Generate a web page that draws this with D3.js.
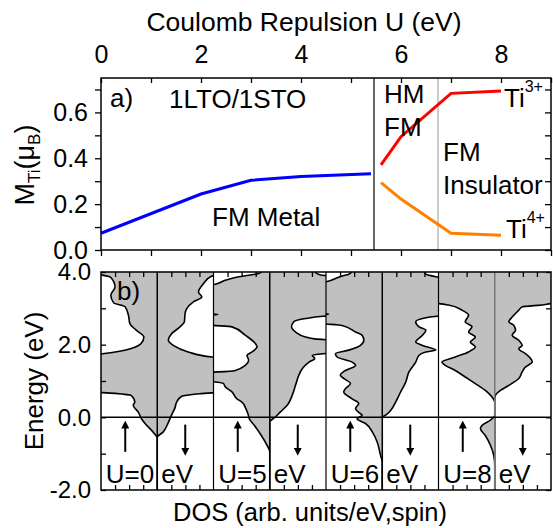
<!DOCTYPE html>
<html><head><meta charset="utf-8">
<script src="https://cdn.jsdelivr.net/npm/d3@7"></script>
<style>
body{margin:0;background:#fff;}
text{font-family:"Liberation Sans",Arial,sans-serif;fill:#000;}
</style></head>
<body><svg id="c" width="553" height="528"></svg>
<script>
// ---------- top panel data ----------
const U_fmMetal = [0, 2, 3, 4, 5.4];
const M_fmMetal = [0.073, 0.244, 0.304, 0.32, 0.333];
const U_ti = [5.6, 6, 7, 8];
const M_ti3 = [0.371, 0.494, 0.683, 0.693];
const M_ti4 = [0.294, 0.222, 0.073, 0.064];
const phaseBoundaries = [5.46, 6.74];
const uTicks = [0,1,2,3,4,5,6,7,8,9];
const uLabels = [0,2,4,6,8];
const mTicks = [0,0.1,0.2,0.3,0.4,0.5,0.6,0.7];
const mLabels = [0,0.2,0.4,0.6];

// ---------- bottom panel data ([energy eV, DOS]) ----------
const panelU = [0, 5, 6, 8];
const energyTicks = [-2,-1,0,1,2,3,4];
const energyLabels = [-2,0,2,4];
const dosTicks = [1,2,3];
const dosU0Up = [[-2,0],[-0.56,0],[-0.45,0.2],[-0.36,0.40],[-0.22,0.76],[-0.04,1.12],[0.15,1.36],[0.33,1.71],[0.42,1.6],[0.6,1.85],[0.66,3],[0.71,5],[1.70,5],[1.75,3.9],[1.89,1.9],[2.03,1.15],[2.21,0.95],[2.40,1.5],[2.58,1.95],[2.81,2.05],[3.05,2.3],[3.15,3.1],[3.36,3.3],[3.59,3.0],[3.85,3.3],[3.92,4.0],[3.97,5],[4,5]];
const dosU0Dn = [[-2,0],[-0.55,0],[-0.4,0.43],[-0.13,0.8],[0.09,1.05],[0.26,1.26],[0.42,1.38],[0.58,1.74],[0.65,3.0],[0.71,5],[1.62,5],[1.66,3.9],[1.80,2.2],[1.98,1.14],[2.12,0.79],[2.30,1.02],[2.49,1.62],[2.63,1.93],[2.86,1.98],[2.99,2.10],[3.18,2.57],[3.31,3.17],[3.45,2.93],[3.68,3.29],[3.89,3.88],[3.95,5],[4,5]];
const dosU5Up = [[-2,0],[-0.95,0],[-0.73,0.25],[-0.5,0.6],[-0.22,1.1],[-0.04,1.45],[0.10,1.55],[0.24,1.7],[0.42,1.98],[0.51,2.33],[0.70,2.69],[0.84,3.17],[0.93,3.29],[0.98,4],[1.0,5],[1.23,5],[1.25,3.64],[1.29,2.45],[1.43,1.74],[1.57,1.5],[1.71,1.62],[1.80,1.26],[1.94,0.90],[2.03,1.02],[2.26,1.74],[2.49,2.69],[2.53,4],[2.56,5],[2.78,5],[2.83,3.7],[2.87,5],[3.63,5],[3.65,4],[3.77,3.17],[3.87,2.21],[3.91,1.5],[3.96,0.79],[4,0.6]];
const dosU5Dn = [[-2,0],[-0.13,0],[0.01,0.4],[0.15,0.76],[0.33,1.24],[0.61,1.6],[0.88,1.83],[1.16,2.07],[1.34,2.31],[1.52,2.79],[1.62,3.2],[1.71,3.02],[1.75,3.8],[1.78,5],[2.10,5],[2.16,3.2],[2.21,2.55],[2.35,1.83],[2.49,1.55],[2.63,1.71],[2.72,2.55],[2.78,3.8],[2.81,5],[3.85,5],[3.92,3.6],[4,3.2]];
const dosU6Up = [[-2,0],[-1.23,0],[-1.05,0.12],[-0.68,0.36],[-0.40,0.71],[-0.17,1.19],[-0.04,1.79],[0.06,1.43],[0.10,1.55],[0.24,1.9],[0.38,1.67],[0.51,2.14],[0.70,2.74],[0.79,2.62],[0.93,2.26],[1.07,2.74],[1.16,2.98],[1.29,2.62],[1.43,1.9],[1.52,2.14],[1.66,3.21],[1.75,3.33],[1.85,2.38],[1.98,1.55],[2.12,1.31],[2.26,1.43],[2.35,1.9],[2.53,2.86],[2.57,4],[2.6,5],[2.8,5],[2.84,3.8],[2.88,5],[3.70,5],[3.73,4],[3.82,3.33],[3.89,2.86],[3.94,2.38],[4,2.2]];
const dosU6Dn = [[-2,0],[0.0,0],[0.06,0.24],[0.19,0.6],[0.42,0.95],[0.70,1.31],[0.97,1.67],[1.25,1.9],[1.52,2.38],[1.71,2.62],[1.80,3.1],[1.85,3.81],[1.98,2.86],[2.07,2.38],[2.26,2.86],[2.40,3.1],[2.49,2.62],[2.63,2.38],[2.72,2.86],[2.78,3.9],[2.82,5],[3.80,5],[3.87,3.81],[3.94,3.1],[4,3.0]];
const dosU8Up = [[-2,0],[-1.32,0],[-1.05,0.07],[-0.77,0.31],[-0.50,0.67],[-0.31,1.02],[-0.22,0.9],[-0.08,0.31],[0.02,0.05],[0.06,0],[0.42,0],[0.56,0.19],[0.74,0.67],[0.93,1.38],[1.11,2.1],[1.29,2.81],[1.43,3.52],[1.52,3.76],[1.66,2.81],[1.80,1.86],[1.94,1.38],[2.07,1.74],[2.21,1.38],[2.35,1.86],[2.49,1.62],[2.63,2.1],[2.81,1.86],[2.95,2.33],[3.09,3.29],[3.13,4],[3.16,5],[4,5]];
const dosU8Dn = [[-2,0],[0.5,0],[0.61,0.05],[0.74,0.4],[0.88,1.0],[1.07,1.71],[1.25,1.95],[1.39,2.19],[1.52,2.67],[1.62,2.55],[1.75,2.19],[1.89,1.71],[1.98,1.95],[2.12,1.71],[2.26,1.24],[2.40,1.48],[2.53,1.36],[2.63,1.0],[2.76,1.24],[2.95,1.71],[3.04,1.95],[3.10,3.5],[3.13,4.0],[3.16,5],[4,5]];
const dosUp = [dosU0Up, dosU5Up, dosU6Up, dosU8Up];
const dosDn = [dosU0Dn, dosU5Dn, dosU6Dn, dosU8Dn];
const arrowE = [-0.2, -0.95];

const svg = d3.select("#c");
svg.append("rect").attr("width",553).attr("height",528).attr("fill","#fff");

// ================= TOP PANEL =================
const L = 101, R = 551, T1 = 78, B1 = 250;
const x = d3.scaleLinear().domain([0,9]).range([L,R]);
const y = d3.scaleLinear().domain([0,0.75]).range([B1,T1]);
const topG = svg.append("g");

function cleanAxis(g){ g.select(".domain").remove(); g.selectAll(".tick line").attr("stroke","#000").attr("stroke-width",1.3); }

topG.append("g").attr("transform",`translate(0,${T1})`)
  .call(d3.axisTop(x).tickValues(uTicks).tickSizeInner(-5).tickSizeOuter(0).tickPadding(15)
    .tickFormat(d => uLabels.includes(d) ? String(d) : ""))
  .call(cleanAxis).selectAll("text").attr("font-size",25).attr("font-family","Liberation Sans, Arial, sans-serif");
topG.append("g").attr("transform",`translate(0,${B1})`)
  .call(d3.axisBottom(x).tickValues(uTicks).tickSizeInner(6).tickSizeOuter(0).tickFormat(""))
  .call(cleanAxis);
topG.append("g").attr("transform",`translate(${L},0)`)
  .call(d3.axisLeft(y).tickValues(mTicks).tickSizeInner(6).tickSizeOuter(0).tickPadding(7)
    .tickFormat(d => mLabels.some(v=>Math.abs(v-d)<1e-9) ? d.toFixed(1) : ""))
  .call(cleanAxis).selectAll("text").attr("font-size",25).attr("font-family","Liberation Sans, Arial, sans-serif");
topG.append("g").attr("transform",`translate(${R},0)`)
  .call(d3.axisRight(y).tickValues(mTicks).tickSizeInner(-6).tickSizeOuter(0).tickFormat(""))
  .call(cleanAxis);

// phase boundaries
topG.append("line").attr("x1",x(phaseBoundaries[0])).attr("x2",x(phaseBoundaries[0]))
  .attr("y1",T1).attr("y2",B1).attr("stroke","#333").attr("stroke-width",1.5);
topG.append("line").attr("x1",x(phaseBoundaries[1])).attr("x2",x(phaseBoundaries[1]))
  .attr("y1",T1).attr("y2",B1).attr("stroke","#bbb").attr("stroke-width",1.5);

const ln = d3.line().x(d=>x(d[0])).y(d=>y(d[1]));
topG.append("path").datum(U_fmMetal.map((u,i)=>[u,M_fmMetal[i]])).attr("d",ln)
  .attr("fill","none").attr("stroke","#0000ff").attr("stroke-width",3);
topG.append("path").datum(U_ti.map((u,i)=>[u,M_ti3[i]])).attr("d",ln)
  .attr("fill","none").attr("stroke","#ff0000").attr("stroke-width",3);
topG.append("path").datum(U_ti.map((u,i)=>[u,M_ti4[i]])).attr("d",ln)
  .attr("fill","none").attr("stroke","#ff8000").attr("stroke-width",3);

topG.append("rect").attr("x",L).attr("y",T1).attr("width",R-L).attr("height",B1-T1)
  .attr("fill","none").attr("stroke","#000").attr("stroke-width",1.5);

function txt(g,s,xx,yy,size,anchor){ return g.append("text").attr("x",xx).attr("y",yy).attr("font-size",size).attr("text-anchor",anchor||"start").text(s); }
txt(svg,"Coulomb Repulsion U (eV)",304,31,26.5,"middle");
txt(topG,"a)",110,107,26);
txt(topG,"1LTO/1STO",169,108,26);
txt(topG,"HM",384,103,26);
txt(topG,"FM",384,136,26);
txt(topG,"FM",443,161,26);
txt(topG,"Insulator",443,194,26);
txt(topG,"FM Metal",212,226,26);
const t3 = txt(topG,"Ti",504,107,26);
t3.append("tspan").attr("font-size",16).attr("dy",-15).text("3+");
const t4 = txt(topG,"Ti",506,238,26);
t4.append("tspan").attr("font-size",16).attr("dy",-15).text("4+");

const ml = svg.append("text").attr("transform","translate(34,165) rotate(-90)").attr("text-anchor","middle").attr("font-size",27);
ml.append("tspan").text("M");
ml.append("tspan").attr("font-size",17).attr("dy",6).text("Ti");
ml.append("tspan").attr("dy",-6).text("(μ");
ml.append("tspan").attr("font-size",17).attr("dy",6).text("B");
ml.append("tspan").attr("dy",-6).text(")");

// ================= BOTTOM PANEL =================
const T2 = 272, B2 = 490;
const yE = d3.scaleLinear().domain([-2,4]).range([B2,T2]);
const pw = (R-L)/panelU.length, hw = pw/2;
const bot = svg.append("g");
const defs = svg.append("defs");
defs.append("marker").attr("id","ah").attr("viewBox","0 0 10 10").attr("refX",5).attr("refY",5)
  .attr("markerWidth",4).attr("markerHeight",4).attr("orient","auto-start-reverse")
  .append("path").attr("d","M0,0L10,5L0,10z").attr("fill","#000");

panelU.forEach((u,i)=>{
  const x0 = L + i*pw, div = x0 + hw;
  const xUp = d3.scaleLinear().domain([0,4]).range([div, div-hw]);
  const xDn = d3.scaleLinear().domain([0,4]).range([div, div+hw]);
  [[xUp,dosUp[i],div-hw,"u"],[xDn,dosDn[i],div,"d"]].forEach(([xs,data,cx,tag])=>{
    const id = `clip${i}${tag}`;
    defs.append("clipPath").attr("id",id).append("rect").attr("x",cx).attr("y",T2).attr("width",hw).attr("height",B2-T2);
    const g = bot.append("g").attr("clip-path",`url(#${id})`);
    const area = d3.area().y(d=>yE(d[0])).x0(div).x1(d=>xs(d[1])).curve(d3.curveMonotoneY);
    const line = d3.line().y(d=>yE(d[0])).x(d=>xs(d[1])).curve(d3.curveMonotoneY);
    g.append("path").datum(data).attr("d",area).attr("fill","#c0c0c0").attr("stroke","none");
    g.append("path").datum(data).attr("d",line).attr("fill","none").attr("stroke","#000").attr("stroke-width",1.6);
    bot.append("g").attr("transform",`translate(0,${B2})`)
      .call(d3.axisBottom(xs).tickValues(dosTicks).tickSizeInner(-5).tickSizeOuter(0).tickFormat("")).call(cleanAxis);
    bot.append("g").attr("transform",`translate(0,${T2})`)
      .call(d3.axisTop(xs).tickValues(dosTicks).tickSizeInner(-5).tickSizeOuter(0).tickFormat("")).call(cleanAxis);
  });
  bot.append("line").attr("x1",div).attr("x2",div).attr("y1",T2).attr("y2",B2)
    .attr("stroke", i===3 ? "#777" : "#000").attr("stroke-width",1.5);
  if(i>0) bot.append("line").attr("x1",x0).attr("x2",x0).attr("y1",T2).attr("y2",B2).attr("stroke","#000").attr("stroke-width",1.2);
  // spin arrows
  bot.append("line").attr("x1",div-32).attr("x2",div-32).attr("y1",yE(arrowE[1])).attr("y2",yE(arrowE[0]))
    .attr("stroke","#000").attr("stroke-width",2).attr("marker-end","url(#ah)");
  bot.append("line").attr("x1",div+28).attr("x2",div+28).attr("y1",yE(arrowE[0])).attr("y2",yE(arrowE[1]))
    .attr("stroke","#000").attr("stroke-width",2).attr("marker-end","url(#ah)");
  txt(bot,`U=${u}`,div-3,483,26,"end");
  txt(bot,"eV",div+4,483,26,"start");
});

// Fermi level
bot.append("line").attr("x1",L).attr("x2",R).attr("y1",yE(0)).attr("y2",yE(0)).attr("stroke","#000").attr("stroke-width",1.5);

bot.append("g").attr("transform",`translate(${L},0)`)
  .call(d3.axisLeft(yE).tickValues(energyTicks).tickSizeInner(-5).tickSizeOuter(0).tickPadding(10)
    .tickFormat(d => energyLabels.includes(d) ? d.toFixed(1) : ""))
  .call(cleanAxis).selectAll("text").attr("font-size",24).attr("font-family","Liberation Sans, Arial, sans-serif");
bot.append("g").attr("transform",`translate(${R},0)`)
  .call(d3.axisRight(yE).tickValues(energyTicks).tickSizeInner(-5).tickSizeOuter(0).tickFormat(""))
  .call(cleanAxis);
bot.append("rect").attr("x",L).attr("y",T2).attr("width",R-L).attr("height",B2-T2)
  .attr("fill","none").attr("stroke","#000").attr("stroke-width",1.5);

txt(bot,"b)",117,300,26);
svg.append("text").attr("transform","translate(43,381) rotate(-90)").attr("text-anchor","middle").attr("font-size",26).text("Energy (eV)");
txt(svg,"DOS (arb. units/eV,spin)",310,521,25.5,"middle");
</script></body></html>
